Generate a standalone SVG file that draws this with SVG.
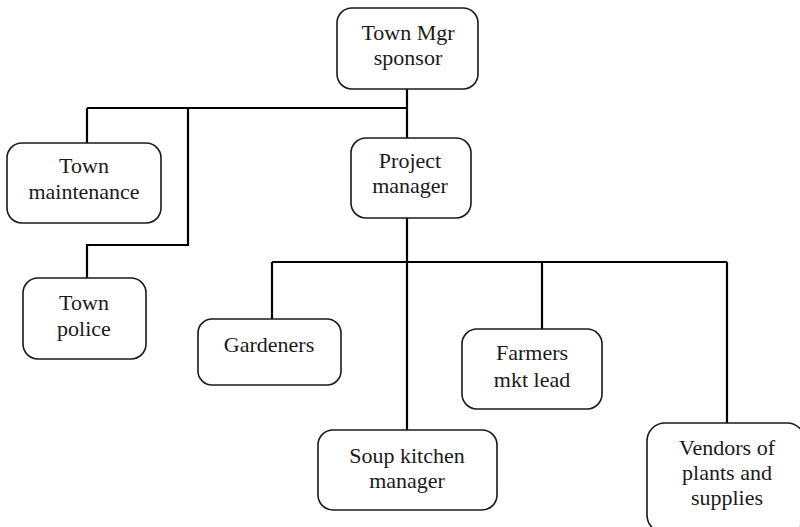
<svg xmlns="http://www.w3.org/2000/svg" width="800" height="527" viewBox="0 0 800 527">
<style>
.box{fill:#fff;stroke:#1a1a1a;stroke-width:1.6}
.lbl{font-family:"Liberation Serif","Times New Roman",serif;font-size:22px;fill:#1a1a1a;text-anchor:middle}
.conn{fill:none;stroke:#000;stroke-width:2.2}
</style>
<rect width="800" height="527" fill="#fff"/>
<g id="connectors" class="conn">
<path d="M407,89 V138"/>
<path d="M87,108 H407"/>
<path d="M87,108 V143"/>
<path d="M188,108 V245 H87 V278"/>
<path d="M407,218 V430"/>
<path d="M272,262 H727"/>
<path d="M272,262 V319"/>
<path d="M542,262 V329"/>
<path d="M727,262 V423"/>
</g>
<g id="town-mgr">
<rect class="box" x="337" y="8" width="141" height="81" rx="15"/>
<text class="lbl" x="408" y="40">Town Mgr</text>
<text class="lbl" x="408" y="65">sponsor</text>
</g>
<g id="town-maintenance">
<rect class="box" x="7" y="143" width="154" height="80" rx="15"/>
<text class="lbl" x="84" y="173">Town</text>
<text class="lbl" x="84" y="199">maintenance</text>
</g>
<g id="project-manager">
<rect class="box" x="351" y="138" width="120" height="80" rx="15"/>
<text class="lbl" x="410" y="168">Project</text>
<text class="lbl" x="410" y="193">manager</text>
</g>
<g id="town-police">
<rect class="box" x="23" y="278" width="123" height="81" rx="15"/>
<text class="lbl" x="84" y="310">Town</text>
<text class="lbl" x="84" y="336">police</text>
</g>
<g id="gardeners">
<rect class="box" x="198" y="319" width="143" height="66" rx="14"/>
<text class="lbl" x="269" y="352">Gardeners</text>
</g>
<g id="farmers-mkt-lead">
<rect class="box" x="462" y="329" width="140" height="80" rx="15"/>
<text class="lbl" x="532" y="360">Farmers</text>
<text class="lbl" x="532" y="387">mkt lead</text>
</g>
<g id="soup-kitchen-manager">
<rect class="box" x="318" y="430" width="179" height="80" rx="15"/>
<text class="lbl" x="407" y="463">Soup kitchen</text>
<text class="lbl" x="407" y="488">manager</text>
</g>
<g id="vendors">
<rect class="box" x="647" y="423" width="158" height="110" rx="18"/>
<text class="lbl" x="727" y="455">Vendors of</text>
<text class="lbl" x="727" y="480">plants and</text>
<text class="lbl" x="727" y="505">supplies</text>
</g>
</svg>
